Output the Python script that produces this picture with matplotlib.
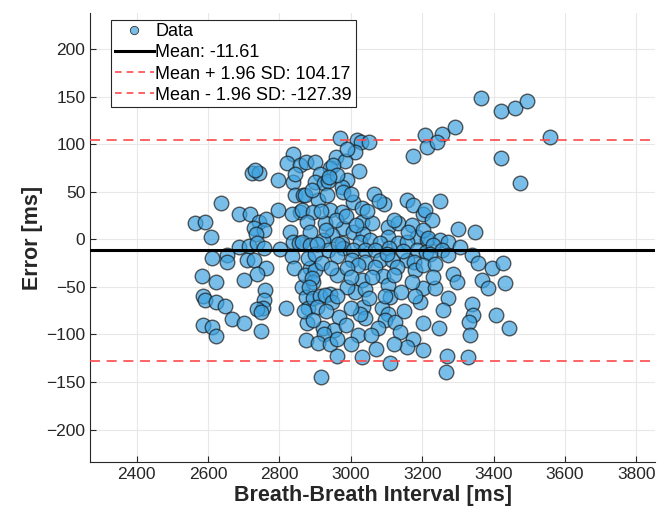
import matplotlib
matplotlib.use("Agg")
import matplotlib.pyplot as plt
from matplotlib.lines import Line2D

plt.rcParams['font.family'] = ['Liberation Sans', 'DejaVu Sans']

# bland-altman style error plot
interval_ms = [
    2562, 2592, 2608, 2636, 2686, 2718, 2744, 2763, 2730, 2756, 2735, 2797, 2686, 2714, 2737, 2757,
    2802, 2653, 2611, 2653, 2709, 2730, 2763, 2737, 2583, 2623, 2700, 2839, 2797, 2844, 2867, 2858,
    2835, 2830, 2839, 2835, 2841, 2854, 2586, 2590, 2621, 2646, 2760, 2756, 2754, 2736, 2747, 2819,
    2667, 2700, 2585, 2611, 2623, 2749, 2863, 2875, 2881, 2877, 2875,
    2723, 2742, 2732, 2838, 2822, 2858, 2844, 2875,
    2970, 3017, 3028, 3052, 3012, 2959, 2984, 3024, 2900, 2942, 2914, 2900, 2925, 2989, 2975, 3175,
    3208, 3214, 3256, 3293, 3240, 3364, 3420, 3461, 3492, 3557, 3420, 3473,
    2937, 2872, 2909, 2933, 2979, 3007, 3031, 3093, 3157, 3175, 3203, 2863, 2895, 2942, 2975, 2877,
    2928, 2979, 2958, 3031, 3059, 3105, 3133, 3171, 2886, 2947, 3007, 3035, 3105, 3185, 3213, 2863,
    2923, 2975, 3026, 3054, 3082, 3133, 3157, 2886, 2937, 2979, 3007, 3040, 3068, 3107, 3185, 3210,
    2961, 3003, 3040, 3082, 3115, 3157, 3178, 2886, 3021, 3068, 3129, 3180, 2872, 2900, 2961, 3091,
    3031, 2895,
    2891, 2882, 2895, 2914, 2942, 2928, 2947, 2905, 2966, 3012, 3040, 3105, 3110, 3087, 3105, 3035,
    3040, 3026, 3096, 3124, 3077, 2922, 2952, 2925, 3021, 3057, 3138, 2909, 2942, 3175, 3157, 3203,
    3203, 3194, 3203, 2961, 3031, 3110, 2916,
    3208, 3226, 3301, 3348, 3203, 3217, 3250, 3273, 3231, 3306, 3254, 3222, 3273, 3338, 3357, 3203,
    3236, 3394, 3427, 3287, 3297, 3366, 3432,
    3236, 3385, 3273, 3259, 3338, 3343, 3332, 3406, 3444, 3248, 3334, 3268, 3329, 3266,
    2880, 2900, 2920, 2945, 2965, 2985, 3000, 3065, 3080, 3120, 3145, 3160, 3170, 3140, 3120, 3060,
    3050, 3000, 2990, 2960, 2950, 2962, 2938, 2890, 2915, 2930, 2905, 2990, 3015, 3045, 3000, 2870,
    2895, 2930, 2985, 3000, 2960, 3070, 3150, 3180, 3230, 3250, 3120, 2990, 3100, 3095,
]
error_ms = [
    17, 18.5, 2, 38, 27, 27, 18.5, 21, 11.5, 10, 6, 31, -8, -7, -4, -9.5,
    -10.5, -16.5, -20, -23.5, -22, -22, -30.5, -36, -39, -44.5, -43, 60.5, 62, 46.5, 46.5, 29,
    27, 8, -2.5, -18, -30.5, -4, -60, -64, -65.5, -70, -53, -64, -72, -73.5, -76, -72,
    -84, -88, -90, -92, -102, -96, -50, -61, -72.5, -88, -106,
    70, 70, 73, 90, 80, 78, 69, 81.5,
    107, 104.5, 102, 102, 92, 87, 82, 71.5, 81, 74.5, 69, 60.5, 59, 62, 55, 88,
    109.5, 97, 111, 118, 102.5, 149, 135, 137.6, 145.6, 108, 86, 59.5,
    61, 46.5, 41, 46.5, 50, 39.5, 32.6, 36.8, 41, 36, 27, 31, 29, 31, 29, 18.5,
    17, 11.5, 20, 18.5, 17, 13, 17, 15, 8, 4.5, 8, 6, 2.7, 2.7, -0.7, -2.5,
    -0.7, -4, -2.5, -0.7, -4, -4, -2.5, -6, -11, -9.5, -11, -11, -11, -9.5, -11, -13,
    -18, -22, -23.5, -22, -22, -22, -23.5, -30.5, -27, -29, -29, -32, -37.5, -32, -37.5, -39,
    -43, -44.5,
    -41, -50, -62, -60, -57, -58, -65.5, -71, -82, -55, -52, -48, -61, -72, -78, -71,
    -83, -78, -85, -87, -93.5, -93.5, -95, -100, -100.5, -100.5, -97, -109, -110, -105, -113, -116,
    -88, -65.5, -51.5, -123, -124, -130, -145,
    31, 20, 10.5, 8, 10, 1, -0.7, -2.5, -6, -8, -11, -15, -16.5, -16.5, -24.5, -27,
    -26, -30.5, -24.5, -36, -44.5, -43, -46,
    -51.5, -51.5, -62, -74, -68, -79.5, -86.5, -79.5, -93, -93.5, -101, -123, -124, -139,
    -20, -15, -25, -30, -5, 25, 48, 48, 40, 20, -12, 8, -45, -55, -38, -40,
    -62, -72, -50, -60, 78, 68, 66, 52, 30, 10, -5, -30, 15, 30, -40, -75,
    -85, -75, -90, -110, -105, -115, -75, -60, -40, 40, -110, 95, -15, -60,
]

mean_err = -11.61
upper_loa = 104.17
lower_loa = -127.39

fig = plt.figure(figsize=(6.59, 5.19), dpi=100)
ax = fig.add_axes([0.137, 0.110, 0.857, 0.865])

ax.scatter(interval_ms, error_ms, s=110, facecolor='#3FA3E0', alpha=0.7,
           edgecolor='#1a1a1a', linewidth=1.0, zorder=3)
ax.axhline(mean_err, color='black', lw=2.2, zorder=4)
ax.axhline(upper_loa, color='#ff4a4a', lw=1.2, ls=(0, (6, 4)), zorder=4)
ax.axhline(lower_loa, color='#ff4a4a', lw=1.2, ls=(0, (6, 4)), zorder=4)

ax.set_xlim(2270, 3852)
ax.set_ylim(-234, 238)
ax.set_xticks(range(2400, 3801, 200))
ax.set_yticks(range(-200, 201, 50))
ax.grid(True, color='#e8e8e8', lw=0.8)
ax.set_axisbelow(True)
for side in ['top', 'right']:
    ax.spines[side].set_visible(False)
for side in ['left', 'bottom']:
    ax.spines[side].set_color('#262626')
ax.tick_params(direction='in', length=4, labelsize=12.5, colors='#262626')

ax.set_xlabel('Breath-Breath Interval [ms]', fontsize=15.5, fontweight='bold',
              color='#262626', labelpad=2)
ax.set_ylabel('Error [ms]', fontsize=15.5, fontweight='bold', color='#262626', labelpad=2)

handles = [
    Line2D([], [], ls='none', marker='o', markersize=6, markerfacecolor='#79bee9',
           markeredgecolor='#333333', markeredgewidth=0.6),
    Line2D([], [], color='black', lw=2.2),
    Line2D([], [], color='#ff4a4a', lw=1.2, ls=(0, (4, 3))),
    Line2D([], [], color='#ff4a4a', lw=1.2, ls=(0, (4, 3))),
]
labels = ['Data', f'Mean: {mean_err:.2f}', f'Mean + 1.96 SD: {upper_loa:.2f}',
          f'Mean - 1.96 SD: {lower_loa:.2f}']
leg = ax.legend(handles, labels, loc='upper left', bbox_to_anchor=(0.037, 0.985),
                fontsize=13, fancybox=False, framealpha=1, edgecolor='#262626',
                handlelength=2.15, handletextpad=0.1, borderpad=0.2, labelspacing=0.23,
                borderaxespad=0)
leg.get_frame().set_linewidth(0.8)

fig.savefig('out.png', dpi=100)
